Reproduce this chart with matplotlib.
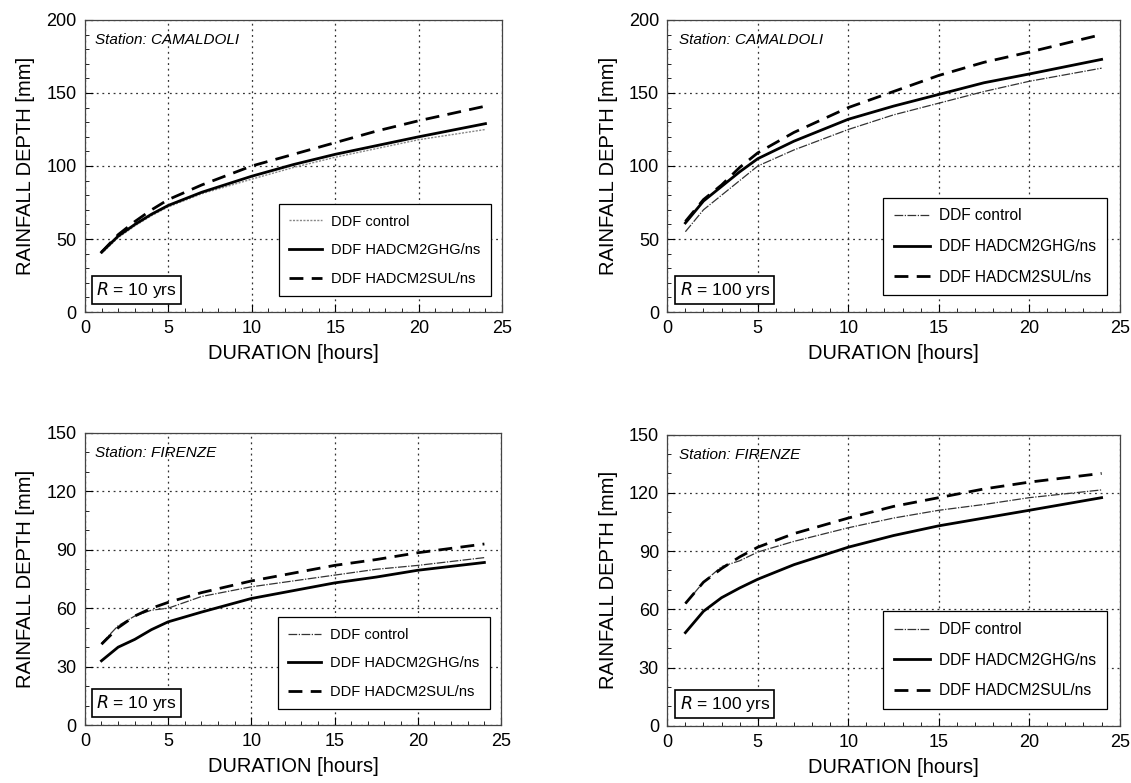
import matplotlib
matplotlib.use("Agg")
import matplotlib.pyplot as plt
from matplotlib.ticker import MultipleLocator

plt.rcParams['font.family'] = ['Liberation Sans', 'DejaVu Sans']

hours = [1, 2, 3, 4, 5, 7, 10, 12.5, 15, 17.5, 20, 24]

# Camaldoli, R = 10 yrs
cam10_ctrl = [40, 51, 59, 66, 72, 81, 91, 99, 106, 112, 118, 125]
cam10_ghg = [41, 52, 60, 67, 73, 82, 93, 101, 108, 114, 120, 129]
cam10_sul = [41, 53, 62, 70, 77, 87, 100, 108, 116, 124, 131, 141]

# Camaldoli, R = 100 yrs
cam100_ctrl = [55, 70, 80, 90, 100, 111, 125, 135, 143, 151, 158, 167]
cam100_ghg = [61, 76, 86, 96, 105, 117, 132, 141, 149, 157, 163, 173]
cam100_sul = [62, 77, 87, 99, 109, 123, 140, 151, 162, 171, 178, 190]

# Firenze, R = 10 yrs
fir10_ctrl = [42, 51, 56, 59, 60, 66, 71, 74, 77, 80, 82, 86]
fir10_ghg = [33, 40, 44, 49, 53, 58, 65, 69, 73, 76, 79.5, 83.5]
fir10_sul = [41.5, 50, 56, 60, 63, 68, 74, 78, 82, 85, 88.5, 93]

# Firenze, R = 100 yrs
fir100_ctrl = [63, 74, 82, 85, 89.5, 95, 102, 107, 111, 114, 117.5, 121.5]
fir100_ghg = [48, 59, 66, 71, 75.5, 83, 92, 98, 103, 107, 111, 117.5]
fir100_sul = [63, 74, 81, 87, 92, 99, 107, 113, 117.5, 122, 125.5, 130]

panels = [
    ([0.075, 0.6015, 0.369, 0.373], cam10_ctrl, cam10_ghg, cam10_sul, 200, 50, 'CAMALDOLI', '10', 10.5),
    ([0.590, 0.6015, 0.400, 0.373], cam100_ctrl, cam100_ghg, cam100_sul, 200, 50, 'CAMALDOLI', '100', 11.2),
    ([0.075, 0.074, 0.368, 0.373], fir10_ctrl, fir10_ghg, fir10_sul, 150, 30, 'FIRENZE', '10', 10.5),
    ([0.590, 0.073, 0.400, 0.372], fir100_ctrl, fir100_ghg, fir100_sul, 150, 30, 'FIRENZE', '100', 11.2),
]

fig = plt.figure(figsize=(11.31, 7.83), dpi=100)

for i, (rect, ctrl, ghg, sul, ymax, ystep, station, rp, legfs) in enumerate(panels):
    ax = fig.add_axes(rect)
    if i == 0:
        ax.plot(hours, ctrl, color='#888888', lw=1.0, ls=(0, (1.5, 1)), label='DDF control')
    else:
        ax.plot(hours, ctrl, color='#333333', lw=0.9, ls=(0, (7, 1.2, 1, 1.2)), label='DDF control')
    ax.plot(hours, ghg, color='black', lw=2.0, label='DDF HADCM2GHG/ns')
    ax.plot(hours, sul, color='black', lw=2.0, ls=(0, (5, 3)), label='DDF HADCM2SUL/ns')

    ax.set_xlim(0, 25)
    ax.set_ylim(0, ymax)
    ax.xaxis.set_major_locator(MultipleLocator(5))
    ax.xaxis.set_minor_locator(MultipleLocator(1))
    ax.yaxis.set_major_locator(MultipleLocator(ystep))
    ax.yaxis.set_minor_locator(MultipleLocator(10))
    ax.tick_params(which='major', direction='in', length=6, labelsize=13, pad=6)
    ax.tick_params(which='minor', direction='in', length=3)
    ax.grid(True, which='major', color='#333333', ls=(0, (1.5, 3)), lw=0.9)
    for s in ax.spines.values():
        s.set_linewidth(0.9)
        s.set_color('#444444')

    ax.set_xlabel('DURATION [hours]', fontsize=14.5, labelpad=5)
    ax.set_ylabel('RAINFALL DEPTH [mm]', fontsize=14.5, labelpad=8)

    ax.text(0.025, 0.93, 'Station: ' + station, transform=ax.transAxes,
            fontsize=11, style='italic', va='center')
    ax.text(0.027, 0.075, r'$\it{R}$' + ' = ' + rp + ' yrs', transform=ax.transAxes,
            fontsize=12.5, va='center',
            bbox=dict(boxstyle='square,pad=0.25', fc='white', ec='black', lw=1.2))

    leg = ax.legend(loc='lower right', bbox_to_anchor=(0.99, 0.03), fontsize=legfs,
                    frameon=True, fancybox=False, edgecolor='black', framealpha=1,
                    handlelength=2.3, handletextpad=0.6, labelspacing=1.0, borderpad=0.7)
    leg.get_frame().set_linewidth(0.9)

fig.savefig('out.png', dpi=100)
